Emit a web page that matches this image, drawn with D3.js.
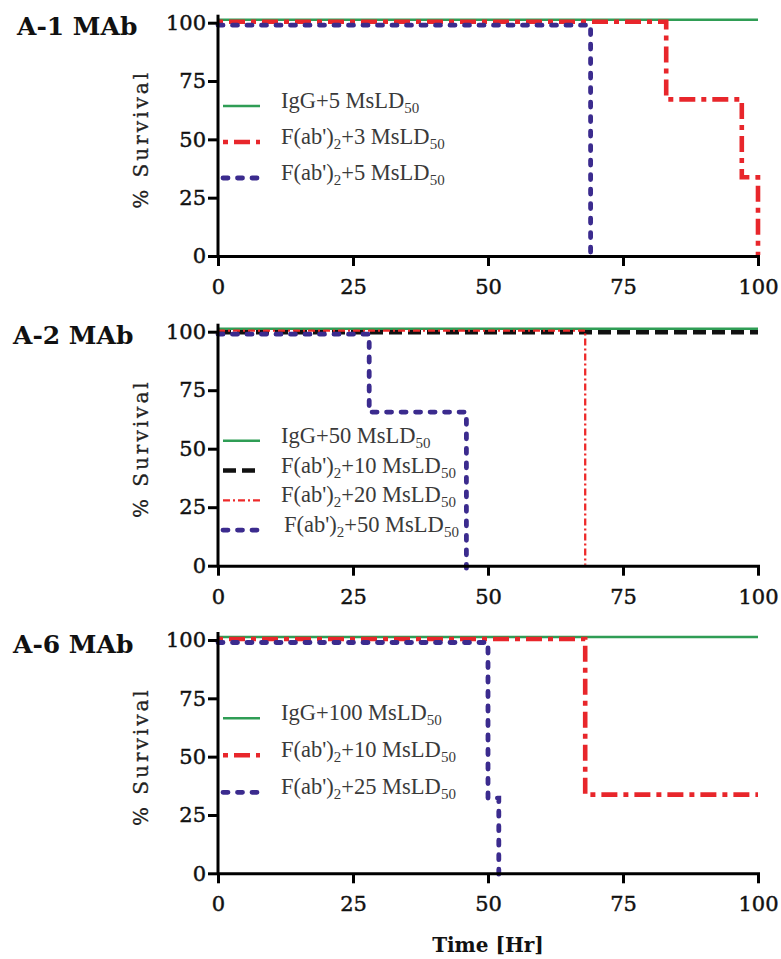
<!DOCTYPE html>
<html><head><meta charset="utf-8">
<script src="https://cdn.jsdelivr.net/npm/d3@7"></script>
<style>body{margin:0;background:#fff} svg{display:block}</style>
</head><body>
<script>
// ---------------- data ----------------
const xTicks = [0, 25, 50, 75, 100];
const yTicks = [0, 25, 50, 75, 100];
const panelTitles = ["A-1 MAb", "A-2 MAb", "A-6 MAb"];
const xAxisTitle = "Time [Hr]";
const yAxisTitle = "% Survival";

// A-1 MAb
const a1_igg5_time = [0, 100],          a1_igg5_surv = [100, 100];
const a1_fab3_time = [0, 83, 97, 100],  a1_fab3_surv = [100, 66.7, 33.3, 0];
const a1_fab5_time = [0, 69],           a1_fab5_surv = [100, 0];
// A-2 MAb
const a2_igg50_time = [0, 100],         a2_igg50_surv = [100, 100];
const a2_fab10_time = [0, 100],         a2_fab10_surv = [100, 100];
const a2_fab20_time = [0, 68],          a2_fab20_surv = [100, 0];
const a2_fab50_time = [0, 28, 46],      a2_fab50_surv = [100, 66.7, 0];
// A-6 MAb
const a6_igg100_time = [0, 100],        a6_igg100_surv = [100, 100];
const a6_fab10_time = [0, 68, 100],     a6_fab10_surv = [100, 33.3, 33.3];
const a6_fab25_time = [0, 50, 52],      a6_fab25_surv = [100, 33.3, 0];

// legend labels ("_" = subscript part)
const a1_labels = [["IgG+5 MsLD", "_50"], ["F(ab')", "_2", "+3 MsLD", "_50"], ["F(ab')", "_2", "+5 MsLD", "_50"]];
const a2_labels = [["IgG+50 MsLD", "_50"], ["F(ab')", "_2", "+10 MsLD", "_50"], ["F(ab')", "_2", "+20 MsLD", "_50"], ["F(ab')", "_2", "+50 MsLD", "_50"]];
const a6_labels = [["IgG+100 MsLD", "_50"], ["F(ab')", "_2", "+10 MsLD", "_50"], ["F(ab')", "_2", "+25 MsLD", "_50"]];

// ---------------- styles ----------------
const S = {
  green:   {color: "#2f9d55", width: 2.6, dash: null,        cap: "butt",  dy: -3},
  redThick:{color: "#e8262b", width: 4.6, dash: "5,6,16,6",  cap: "butt",  dy: -1},
  blue:    {color: "#3b2b8e", width: 4.8, dash: "5,9.5",     cap: "round", dy: 2.5},
  black:   {color: "#111111", width: 4.6, dash: "13,6",      cap: "butt",  dy: 0.5},
  redThin: {color: "#ee2a2a", width: 2.3, dash: "7,3,2,3",   cap: "butt",  dy: -1}
};

const zip = (t, s) => t.map((d, i) => ({t: d, s: s[i]}));

const panels = [
  {title: panelTitles[0], titleX: 17, y100: 22.7, y0: 256,
   legTop: 106, legStep: 36, legX: [281, 281, 281],
   series: [
     {pts: zip(a1_igg5_time, a1_igg5_surv), st: S.green,    label: a1_labels[0]},
     {pts: zip(a1_fab3_time, a1_fab3_surv), st: S.redThick, label: a1_labels[1]},
     {pts: zip(a1_fab5_time, a1_fab5_surv), st: S.blue,     label: a1_labels[2]}
   ], order: [0, 1, 2]},
  {title: panelTitles[1], titleX: 13, y100: 331.7, y0: 565.7,
   legTop: 440.7, legStep: 29.8, legX: [281, 281, 281, 284],
   series: [
     {pts: zip(a2_igg50_time, a2_igg50_surv), st: S.green,   label: a2_labels[0]},
     {pts: zip(a2_fab10_time, a2_fab10_surv), st: S.black,   label: a2_labels[1]},
     {pts: zip(a2_fab20_time, a2_fab20_surv), st: S.redThin, label: a2_labels[2]},
     {pts: zip(a2_fab50_time, a2_fab50_surv), st: S.blue,    label: a2_labels[3]}
   ], order: [0, 1, 2, 3]},
  {title: panelTitles[2], titleX: 13, y100: 640, y0: 873.3,
   legTop: 718.3, legStep: 37, legX: [281, 281, 281],
   series: [
     {pts: zip(a6_igg100_time, a6_igg100_surv), st: S.green,    label: a6_labels[0]},
     {pts: zip(a6_fab10_time, a6_fab10_surv),   st: S.redThick, label: a6_labels[1]},
     {pts: zip(a6_fab25_time, a6_fab25_surv),   st: S.blue,     label: a6_labels[2]}
   ], order: [0, 1, 2]}
];

const W = 781, H = 959;
const X0 = 218, X1 = 758;
const SERIF = "'DejaVu Serif', 'Liberation Serif', serif";
const LEGFONT = "'Liberation Serif', 'DejaVu Serif', serif";

const svg = d3.select("body").append("svg").attr("width", W).attr("height", H)
  .style("background", "#fff");

const x = d3.scaleLinear().domain([0, 100]).range([X0, X1]);

panels.forEach(p => {
  const y = d3.scaleLinear().domain([0, 100]).range([p.y0, p.y100]);
  const g = svg.append("g");

  // title
  g.append("text").attr("x", p.titleX).attr("y", p.y100 + 12.5)
    .attr("font-family", SERIF).attr("font-weight", "bold").attr("font-size", 25)
    .attr("fill", "#111").text(p.title);

  // y label
  g.append("text")
    .attr("transform", `translate(148,${(p.y0 + p.y100) / 2}) rotate(-90)`)
    .attr("text-anchor", "middle").attr("font-family", SERIF).attr("font-size", 20)
    .attr("letter-spacing", 3).attr("fill", "#222")
    .attr("stroke", "#222").attr("stroke-width", 0.3).text(yAxisTitle);

  // series
  const line = d3.line().x(d => x(d.t)).y(d => y(d.s)).curve(d3.curveStepAfter);
  p.order.forEach(i => {
    const s = p.series[i];
    g.append("path").datum(s.pts)
      .attr("d", line)
      .attr("transform", `translate(0,${s.st.dy})`)
      .attr("fill", "none").attr("stroke", s.st.color)
      .attr("stroke-width", s.st.width)
      .attr("stroke-dasharray", s.st.dash)
      .attr("stroke-linecap", s.st.cap);
  });

  // legend
  p.series.forEach((s, i) => {
    const ly = p.legTop + i * p.legStep;
    g.append("line").attr("x1", 223).attr("x2", 260).attr("y1", ly).attr("y2", ly)
      .attr("stroke", s.st.color).attr("stroke-width", s.st.width)
      .attr("stroke-dasharray", s.st.dash).attr("stroke-linecap", s.st.cap);
    const t = g.append("text").attr("x", p.legX[i]).attr("y", ly + 7)
      .attr("font-family", LEGFONT).attr("font-size", 22.5).attr("fill", "#3a3a3a");
    s.label.forEach(part => {
      if (part.startsWith("_")) {
        t.append("tspan").attr("font-size", 15).attr("dy", 5).text(part.slice(1));
      } else {
        t.append("tspan").attr("dy", t.selectAll("tspan").size() ? -5 : 0).text(part);
      }
    });
  });

  // axes
  const ya = g.append("g").attr("transform", `translate(${X0},0)`)
    .call(d3.axisLeft(y).tickValues(yTicks).tickSize(10).tickSizeOuter(0).tickPadding(2));
  ya.select(".domain").attr("d", `M0,${p.y0}V${p.y100 - 6.5}`);
  const xa = g.append("g").attr("transform", `translate(0,${p.y0})`)
    .call(d3.axisBottom(x).tickValues(xTicks).tickSize(10).tickSizeOuter(0).tickPadding(13));
  [ya, xa].forEach(a => {
    a.select(".domain").attr("stroke", "#000").attr("stroke-width", 3).attr("stroke-linecap", "square");
    a.selectAll(".tick line").attr("stroke", "#000").attr("stroke-width", 3);
    a.selectAll(".tick text").attr("font-family", SERIF).attr("font-size", 21).attr("fill", "#111")
      .attr("stroke", "#111").attr("stroke-width", 0.45);
  });
});

// x axis title
svg.append("text").attr("x", (X0 + X1) / 2).attr("y", 952)
  .attr("text-anchor", "middle").attr("font-family", SERIF).attr("font-weight", "bold")
  .attr("font-size", 20).attr("fill", "#111").text(xAxisTitle);
</script>
</body></html>
